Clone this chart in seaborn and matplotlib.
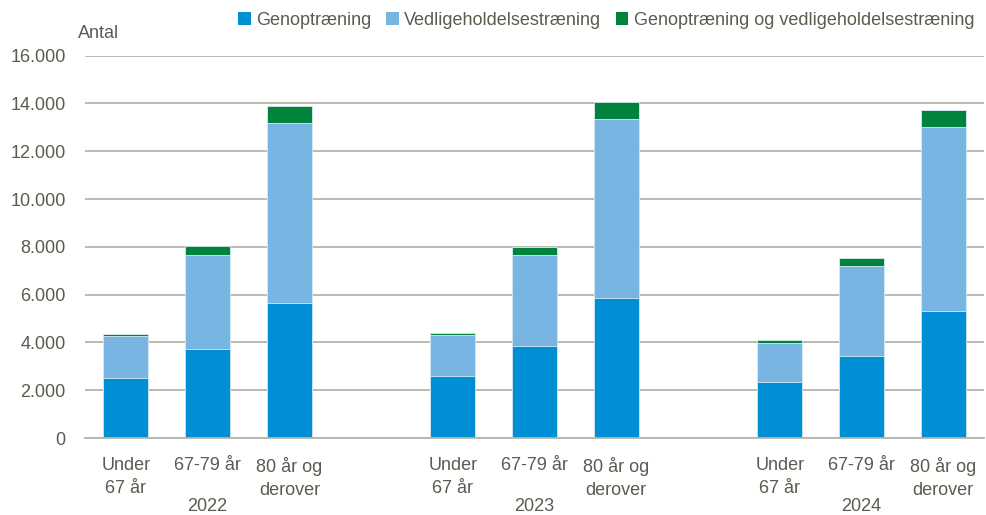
import matplotlib
matplotlib.use("Agg")
import matplotlib.pyplot as plt
import matplotlib.transforms as mtransforms
from matplotlib.patches import Patch
import seaborn as sns
import pandas as pd

years = ["2022", "2023", "2024"]
age_groups = ["Under\n67 år", "67-79 år", "80 år og\nderover"]
series = ["Genoptræning", "Vedligeholdelsestræning", "Genoptræning og vedligeholdelsestræning"]
genoptraening = [2520, 3740, 5660, 2580, 3840, 5840, 2330, 3450, 5300]
vedligehold = [1730, 3930, 7520, 1720, 3800, 7500, 1660, 3760, 7710]
begge = [120, 360, 710, 110, 360, 740, 130, 320, 710]
yticks = [0, 2000, 4000, 6000, 8000, 10000, 12000, 14000, 16000]

colors = ["#008fd5", "#78b5e3", "#00843d"]
txt = "#5b5b50"
fs = 13

sns.set_theme(style="white")
plt.rcParams["font.family"] = ["Liberation Sans", "DejaVu Sans"]

# positions: 3 bars per year, one empty slot between years
pos = []
for gi in range(len(years)):
    for ai in range(len(age_groups)):
        pos.append(gi * (len(age_groups) + 1) + ai)

df = pd.DataFrame({
    "pos": pos,
    "g": genoptraening,
    "v": vedligehold,
    "b": begge,
})
df["gv"] = df["g"] + df["v"]
df["gvb"] = df["gv"] + df["b"]

fig = plt.figure(figsize=(9.86, 5.15), dpi=100)
ax = fig.add_axes([0.0862, 0.1495, 0.9118, 0.7425])

for col, c in [("gvb", colors[2]), ("gv", colors[1]), ("g", colors[0])]:
    sns.barplot(data=df, x="pos", y=col, native_scale=True, width=0.55,
                color=c, saturation=1, edgecolor="#dbe9f5", linewidth=0.6, ax=ax)

ax.set_xlim(-0.5, 10.5)
ax.set_ylim(0, 16000)
ax.set_yticks(yticks)
ax.set_yticklabels([f"{v:,}".replace(",", ".") for v in yticks], color=txt, fontsize=fs)
ax.set_xticks(pos)
ax.set_xticklabels(age_groups * len(years), color=txt, fontsize=fs, linespacing=1.45, va="top")
ax.tick_params(axis="x", length=0, pad=14)
ax.tick_params(axis="y", length=0, pad=14)
ax.set_xlabel("")
ax.set_ylabel("")
ax.yaxis.grid(True, color="#b5b5a8", linewidth=1.3)
ax.set_axisbelow(True)
for s in ["left", "right", "top"]:
    ax.spines[s].set_visible(False)
ax.spines["bottom"].set_color("#b5b5a8")
ax.spines["bottom"].set_linewidth(1.3)

tr = mtransforms.blended_transform_factory(ax.transData, fig.transFigure)
for gi, y in enumerate(years):
    ax.text(gi * 4 + 1, 0.016, y, transform=tr,
            ha="center", va="center", color=txt, fontsize=fs)

fig.text(0.079, 0.935, "Antal", color=txt, fontsize=fs, ha="left", va="center")

handles = [Patch(facecolor=c, edgecolor="none") for c in colors]
fig.legend(handles, series, loc="upper right", bbox_to_anchor=(1.0, 1.0), ncol=3,
           frameon=False, fontsize=fs, handlelength=0.7, handleheight=0.7,
           handletextpad=0.3, columnspacing=0.8, labelcolor=txt, borderaxespad=0.25)

fig.savefig("out.png", dpi=100)
